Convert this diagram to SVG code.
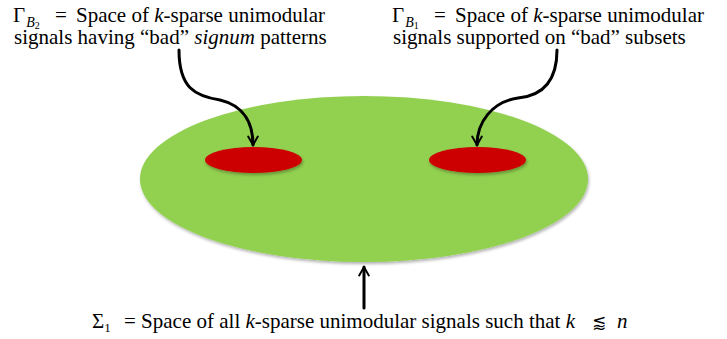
<svg xmlns="http://www.w3.org/2000/svg" width="727" height="339" viewBox="0 0 727 339">
<style>
.t,.s1{font-family:"Liberation Serif","Times New Roman",Times,"DejaVu Serif",serif;fill:#000}
.t{font-size:21px}
.sb{font-size:14px;font-style:italic}
.sn{font-size:10px}
.s1{font-size:13px}
.i{font-style:italic}
.sym{font-family:"DejaVu Sans","Noto Sans",sans-serif;font-size:17px;fill:#000}
.conn{fill:none;stroke:#000;stroke-width:3;stroke-linecap:round;stroke-linejoin:round}
</style>
<defs>
<filter id="sh" x="-10%" y="-10%" width="120%" height="130%">
<feDropShadow dx="1" dy="2" stdDeviation="1.5" flood-color="#000" flood-opacity="0.3"/>
</filter>
<marker id="ah" viewBox="0 0 10 10" refX="8" refY="5" markerWidth="4" markerHeight="4" orient="auto" markerUnits="strokeWidth">
<path d="M1,1 L8,5 L1,9" fill="none" stroke="#000" stroke-width="1.6" stroke-linecap="round" stroke-linejoin="round"/>
</marker>
</defs>
<rect width="727" height="339" fill="#fff"/>
<g id="sigma1">
<ellipse cx="364" cy="179" rx="224" ry="83" fill="#92D050" filter="url(#sh)"/>
</g>
<g id="gammaB2">
<ellipse cx="253.5" cy="160" rx="48.5" ry="13" fill="#CC0000" filter="url(#sh)"/>
</g>
<g id="gammaB1">
<ellipse cx="477.5" cy="160" rx="48.5" ry="13" fill="#CC0000" filter="url(#sh)"/>
</g>
<g id="connectors">
<path class="conn" marker-end="url(#ah)" d="M179,50 C179,88 195,96 220,100 C246,106 253,126 253,145"/>
<path class="conn" marker-end="url(#ah)" d="M557,50 C557,84 540,96 518,98 C492,102 477,122 477,145"/>
<path class="conn" marker-end="url(#ah)" d="M364,308 L364,267"/>
</g>
<g id="label-B2">
<text class="t" x="13" y="22">Γ<tspan class="sb" dx="1" dy="5">B</tspan><tspan class="sn" dy="2">2</tspan></text>
<text class="t" x="55" y="22">=</text>
<text class="t" x="76" y="22">Space of <tspan class="i">k</tspan>-sparse unimodular</text>
<text class="t" x="14" y="44">signals having “bad” <tspan class="i">signum</tspan> patterns</text>
</g>
<g id="label-B1">
<text class="t" x="392" y="22">Γ<tspan class="sb" dx="1" dy="5">B</tspan><tspan class="sn" dy="2">1</tspan></text>
<text class="t" x="434" y="22">=</text>
<text class="t" x="455" y="22">Space of <tspan class="i">k</tspan>-sparse unimodular</text>
<text class="t" x="393" y="44">signals supported on “bad” subsets</text>
</g>
<g id="label-sigma">
<text class="t" x="92" y="328">Σ<tspan class="s1" dy="4">1</tspan></text>
<text class="t" x="124" y="328">= Space of all <tspan class="i">k</tspan>-sparse unimodular signals such that <tspan class="i">k</tspan></text>
<text class="sym" x="592" y="328">⪅</text>
<text class="t i" x="617" y="328">n</text>
</g>
</svg>
